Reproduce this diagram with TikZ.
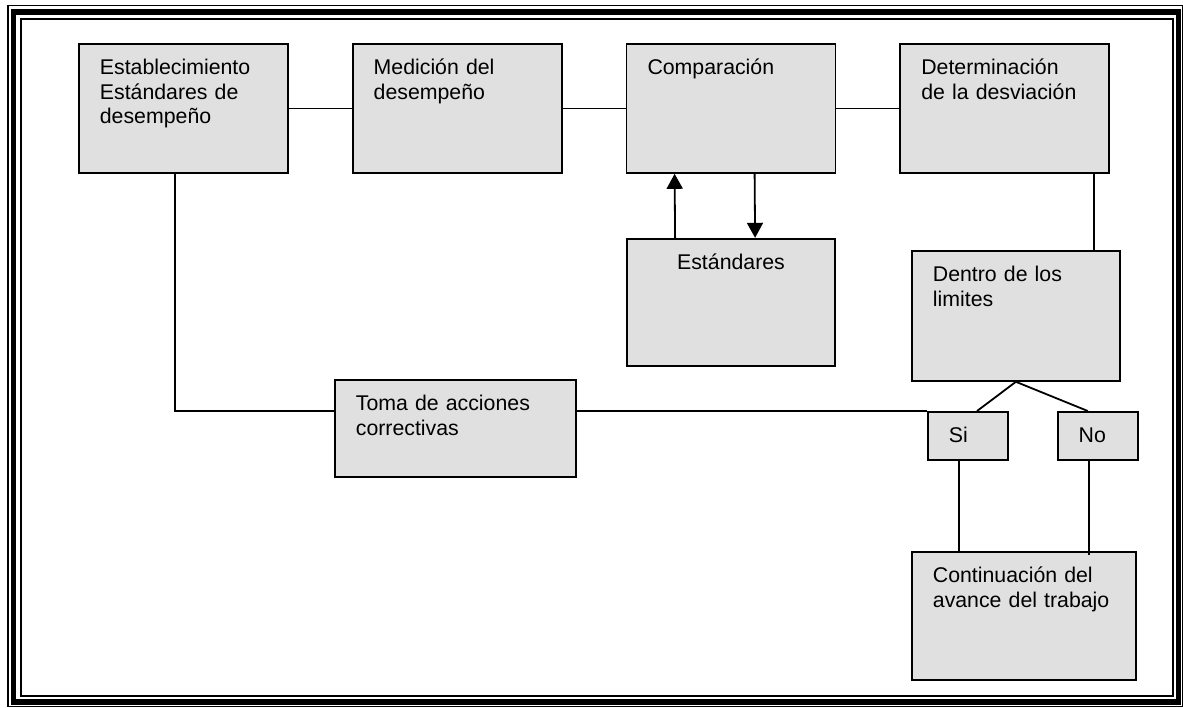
\documentclass[tikz,border=0pt]{standalone}
\usepackage{fontspec}
\setmainfont{Liberation Sans}
\usetikzlibrary{arrows.meta, positioning}
\tikzstyle{stepbox} = [rectangle, draw=black, fill=black!12, line width=1.8pt, inner xsep=21pt, inner ysep=0pt, text height=31pt, text depth=98pt, text width=167pt, align=left, font=\fontsize{21.3pt}{24.5pt}\selectfont]
\tikzstyle{line} = [line width=1.8pt]
\tikzstyle{arrow} = [line width=1.8pt, -{Triangle[length=15pt,width=16pt]}]
\begin{document}
\begin{tikzpicture}[x=1pt, y=-1pt]
\useasboundingbox (0,0) rectangle (1183,707);
% page border
\draw[line width=1.2pt] (8,5.5) rectangle (1182.5,706.3);
\draw[line width=5.5pt] (13.5,12) rectangle (1178.5,702);
\draw[line width=2pt] (21,19) rectangle (1172.5,695.5);

\node (estab) [stepbox, anchor=north west] at (78,43) {Establecimiento\\Estándares de\\desempeño};
\node (medicion) [stepbox, right=63pt of estab] {Medición del\\desempeño};
\node (comparacion) [stepbox, right=63pt of medicion] {Comparación};
\node (determ) [stepbox, right=63pt of comparacion] {Determinación\\de la desviación};

\node (estandares) [stepbox, text width=166pt, text depth=96pt, align=center, below=64pt of comparacion] {Estándares};

\node (dentro) [stepbox, text width=166pt, text depth=99pt, anchor=north west] at (911,250) {Dentro de los\\limites};
\node (si) [stepbox, text width=38pt, text depth=17pt, anchor=north west] at (927,411) {Si};
\node (no) [stepbox, text width=38pt, text depth=17pt, right=48pt of si] {No};

\node (toma) [stepbox, text width=199pt, text depth=66pt, anchor=north west] at (334,379) {Toma de acciones\\correctivas};
\node (cont) [stepbox, text width=182pt, text depth=97pt, anchor=north west] at (911,551) {Continuación del\\avance del trabajo};

\draw [line] (estab) -- (medicion);
\draw [line] (medicion) -- (comparacion);
\draw [line] (comparacion) -- (determ);

\draw [arrow] ([xshift=49pt]estandares.north west) -- ([xshift=49pt]comparacion.south west);
\draw [arrow] ([xshift=129pt]comparacion.south west) -- ([xshift=129pt]estandares.north west);

\draw [line] ([xshift=-16pt]determ.south east) coordinate (d) -- (d |- dentro.north);
\draw [line] (dentro.south) -- ([xshift=50pt]si.north west);
\draw [line] (dentro.south) -- ([xshift=31pt]no.north west);

\draw [line] ([xshift=97pt]estab.south west) |- ([yshift=-32pt]toma.north west);
\draw [line] ([yshift=-32pt]toma.north east) -- (si.north west);

\draw [line] ([xshift=32pt]si.south west) coordinate (s) -- (s |- cont.north);
\draw [line] ([xshift=32pt]no.south west) coordinate (n) -- ([yshift=-4pt]n |- cont.north);
\end{tikzpicture}
\end{document}
